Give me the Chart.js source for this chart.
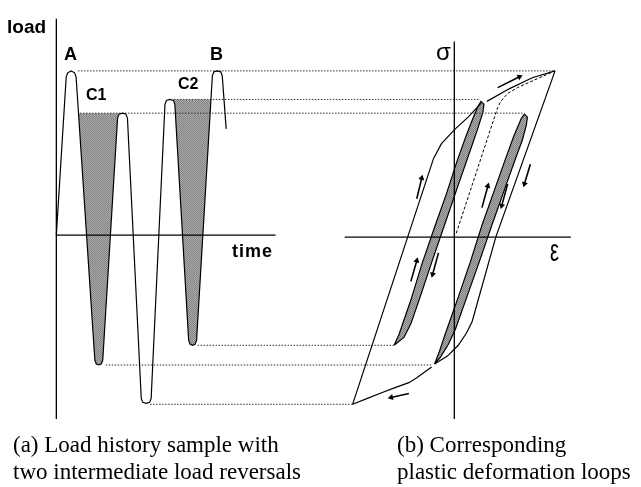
<!DOCTYPE html>
<html>
<head>
<meta charset="utf-8">
<script src="https://cdn.jsdelivr.net/npm/chart.js@4/dist/chart.umd.min.js"></script>
<style>
  body { margin: 0; background: #fff; }
  #wrap { position: relative; width: 641px; height: 487px; }
  #wrap canvas { position: absolute; left: 0; top: 0; }
  .lbl { position: absolute; font-family: "Liberation Sans", Arial, sans-serif; font-weight: bold; line-height: 1; color: #000; white-space: nowrap; }
  .cap { position: absolute; font-family: "Liberation Serif", "Times New Roman", serif; font-size: 23px; line-height: 27px; color: #000; white-space: nowrap; }
</style>
</head>
<body>
<div id="wrap">
  <canvas id="myChart" width="641" height="487"></canvas>
  <span class="lbl" style="left:7px;top:17px;font-size:19px">load</span>
  <span class="lbl" style="left:64px;top:45px;font-size:18px">A</span>
  <span class="lbl" style="left:210px;top:45px;font-size:18px">B</span>
  <span class="lbl" style="left:86px;top:87px;font-size:16px">C1</span>
  <span class="lbl" style="left:178px;top:76px;font-size:16px">C2</span>
  <span class="lbl" style="left:232px;top:242px;font-size:18px;letter-spacing:1px">time</span>
  <span class="lbl" style="left:436px;top:40px;font-size:24px;font-weight:normal">σ</span>
  <span class="lbl" style="left:550px;top:246px;font-size:20px;font-weight:normal;transform:scale(1,1.6);transform-origin:0 100%">ε</span>
  <div class="cap" style="left:13px;top:431px">(a) Load history sample with<br>two intermediate load reversals</div>
  <div class="cap" style="left:397px;top:431px">(b) Corresponding<br>plastic deformation loops</div>
</div>
<script>
'use strict';

// load history (time, load)
const loadHistory = [[53,0],[63,161],[64.5,165],[68,167],[71.5,165],[73,161],
  [92,-127],[93.5,-131],[96,-132],[98.5,-131],[100,-127],
  [115,119],[116.5,123],[120,124],[123.5,123],[125,119],
  [139,-166],[140.5,-170],[144,-171],[147.5,-170],[149,-166],
  [163,133],[164.5,137],[168,138],[171.5,137],[173,133],
  [187,-107],[188.5,-111],[191,-112],[193.5,-111],[195,-107],
  [211,162],[212.5,166],[216,167],[219.5,166],[221,162],[225,108]];

// shaded cycles C1 and C2 (filled up to their top load level)
const shadeC1 = [[75.4,124],[92,-127],[93.5,-131],[96,-132],[98.5,-131],[100,-127],[115,119],[116.7,124]];
const shadeC2 = [[170,138],[171.5,137],[173,133],[187,-107],[188.5,-111],[191,-112],[193.5,-111],[195,-107],[209.6,138]];

// load levels and dotted projection lines [from, to]
const levels = [167, 138, 124, -112, -132, -172];
const levelFrom = [75, 172, 77, 196, 103, 148];
const levelTo = [558, 482, 527, 395, 433, 353];

// stress-strain outer loop
const rightEdge = [[558,167],[498,-2],[474,-88],[468,-100],[460,-112],[449,-123],[436,-131]];
const bottomCurve = [[433,-134],[418,-145],[410,-150],[396,-155],[383,-160],[368,-166],[353,-172]];
const leftEdge = [[353,-172],[435,78],[443,93],[457,108],[470,120],[483,134]];
const topCurve = [[489,136],[512,149],[535,160],[558,167]];
const initialCurve = [[458,2],[500,130],[503,136],[510,144],[520,150],[540,159],[558,167]];

// small loops
const loopC2 = [[395,-112],[400,-101],[412,-66],[423,-30],[436,8],[448,42],[459,76],[468,101],[475,119],[480,131],[483,136],
  [486,133],[485,125],[479,106],[470,80],[459,48],[446,10],[433,-28],[421,-64],[412,-90],[405,-104],[395,-112]];
const loopC1 = [[436,-131],[441,-118],[447,-100],[460,-63],[472,-28],[484,10],[496,44],[508,78],[516,100],[521,112],[524,119],[527,123],
  [530,120],[529,112],[525,97],[518,78],[506,44],[494,10],[481,-28],[469,-62],[457,-96],[450,-111],[442,-124],[436,-131]];

// arrows [x0, y0, x1, y1] head at (x1, y1)
const arrows = [[500,150,522,161],[533,72,527,52],[418,37,423,58],[484,28,490,50],
  [510,52,504,30],[412,-47,418,-26],[440,-18,434,-40],[410,-161,392,-165]];

// axes
const loadAxis = [[53,220],[53,-187]];
const timeAxis = [[53,0],[275,0]];
const sigmaAxis = [[456,197],[456,-187]];
const epsAxis = [[345,-2],[574,-2]];

const pts = a => a.map(p => ({ x: p[0], y: p[1] }));

// soft stipple grey
function dither() {
  const c = document.createElement('canvas');
  c.width = 2; c.height = 2;
  const g = c.getContext('2d');
  g.fillStyle = '#ababab';
  g.fillRect(0, 0, 2, 2);
  g.fillStyle = '#828282';
  g.fillRect(0, 0, 1, 1);
  g.fillRect(1, 1, 1, 1);
  return g.createPattern(c, 'repeat');
}
const shade = dither();

function line(data, extra) {
  return Object.assign({
    data: pts(data), showLine: true, borderColor: '#000', borderWidth: 1.2,
    pointRadius: 0, fill: false, order: 0
  }, extra || {});
}

const datasets = [];
datasets.push(line(shadeC1, { borderWidth: 0, fill: { value: 124 }, backgroundColor: shade, order: 5 }));
datasets.push(line(shadeC2, { borderWidth: 0, fill: { value: 138 }, backgroundColor: shade, order: 5 }));
datasets.push(line(loopC1, { fill: 'shape', backgroundColor: shade, order: 4 }));
datasets.push(line(loopC2, { fill: 'shape', backgroundColor: shade, order: 4 }));
[loadAxis, timeAxis, sigmaAxis, epsAxis].forEach(a => datasets.push(line(a, { borderWidth: 1.3 })));
datasets.push(line(loadHistory));
[rightEdge, bottomCurve, leftEdge, topCurve].forEach(a => datasets.push(line(a)));
datasets.push(line(initialCurve, { borderDash: [3, 2], borderWidth: 1 }));
levels.forEach((v, i) => datasets.push(line([[levelFrom[i], v], [levelTo[i], v]],
  { borderDash: [1.5, 1.5], borderWidth: 1, borderColor: '#333', order: 3 })));
arrows.forEach(a => {
  const rot = Math.atan2(a[2] - a[0], a[3] - a[1]) * 180 / Math.PI;
  datasets.push(line([[a[0], a[1]], [a[2], a[3]]], {
    borderWidth: 1.6, pointStyle: 'triangle', pointRadius: [0, 3.5],
    pointRotation: [0, rot], pointBackgroundColor: '#000', pointBorderColor: '#000', pointBorderWidth: 0
  }));
});

new Chart(document.getElementById('myChart').getContext('2d'), {
  type: 'scatter',
  data: { datasets: datasets },
  options: {
    responsive: false,
    animation: false,
    events: [],
    layout: { padding: 0 },
    plugins: { legend: { display: false }, tooltip: { enabled: false } },
    scales: {
      x: { type: 'linear', min: 0, max: 641, display: false },
      y: { type: 'linear', min: -252, max: 235, display: false }
    }
  }
});
</script>
</body>
</html>
